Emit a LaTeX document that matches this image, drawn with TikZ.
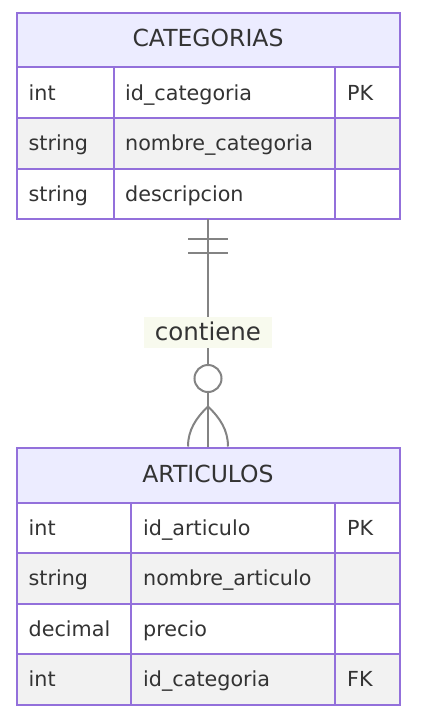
\documentclass[tikz,border=0pt]{standalone}
\usepackage{fontspec}
\setmainfont{DejaVu Sans}
\definecolor{purp}{HTML}{9370DB}
\definecolor{hdrfill}{HTML}{ECECFF}
\definecolor{altfill}{HTML}{F2F2F2}
\definecolor{txt}{HTML}{333333}
\definecolor{lnk}{HTML}{838383}
\definecolor{lblbg}{HTML}{F8FAEE}
\tikzset{
  attrtext/.style={anchor=base west, inner sep=0pt, text=txt, font=\fontsize{20.7}{24}\selectfont},
  hdrtext/.style={anchor=base, inner sep=0pt, text=txt, font=\fontsize{23.5}{27}\selectfont},
  frame/.style={draw=purp, line width=2pt},
  relline/.style={draw=lnk, line width=2pt},
}
\begin{document}
\begin{tikzpicture}[x=1pt,y=-1pt]
\useasboundingbox (0,0) rectangle (424,718);
% ---------- CATEGORIAS ----------
\path[fill=hdrfill] (16.5,13) rectangle (399.5,67);
\path[fill=white] (16.5,67) rectangle (399.5,117.5);
\path[fill=altfill] (16.5,117.5) rectangle (399.5,168.5);
\path[fill=white] (16.5,168.5) rectangle (399.5,218.5);
\node[hdrtext] (catT) at (208,46.7) {CATEGORIAS};
\node[attrtext] (c1a) at (28.5,100) {int};
\node[attrtext] (c1b) at (125,100) {id\_categoria};
\node[attrtext] (c1c) at (347,100) {PK};
\node[attrtext] (c2a) at (28.5,150.5) {string};
\node[attrtext] (c2b) at (125,150.5) {nombre\_categoria};
\node[attrtext] (c3a) at (28.5,201) {string};
\node[attrtext] (c3b) at (125,201) {descripcion};
\draw[frame] (16.5,13) rectangle (399.5,218.5);
\draw[frame] (16.5,67) -- (399.5,67) (16.5,117.5) -- (399.5,117.5) (16.5,168.5) -- (399.5,168.5)
  (113.5,67) -- (113.5,218.5) (335,67) -- (335,218.5);
\coordinate (catS) at (208,219);
% ---------- ARTICULOS ----------
\path[fill=hdrfill] (16.5,447.5) rectangle (399.5,502.5);
\path[fill=white] (16.5,502.5) rectangle (399.5,552.5);
\path[fill=altfill] (16.5,552.5) rectangle (399.5,603.5);
\path[fill=white] (16.5,603.5) rectangle (399.5,653.5);
\path[fill=altfill] (16.5,653.5) rectangle (399.5,704.5);
\node[hdrtext] (artT) at (208,482.3) {ARTICULOS};
\node[attrtext] (a1a) at (28.5,535) {int};
\node[attrtext] (a1b) at (143,535) {id\_articulo};
\node[attrtext] (a1c) at (347,535) {PK};
\node[attrtext] (a2a) at (28.5,585.5) {string};
\node[attrtext] (a2b) at (143,585.5) {nombre\_articulo};
\node[attrtext] (a3a) at (28.5,636) {decimal};
\node[attrtext] (a3b) at (143,636) {precio};
\node[attrtext] (a4a) at (28.5,686.5) {int};
\node[attrtext] (a4b) at (143,686.5) {id\_categoria};
\node[attrtext] (a4c) at (347,686.5) {FK};
\draw[frame] (16.5,447.5) rectangle (399.5,704.5);
\draw[frame] (16.5,502.5) -- (399.5,502.5) (16.5,552.5) -- (399.5,552.5) (16.5,603.5) -- (399.5,603.5)
  (16.5,653.5) -- (399.5,653.5)
  (131,502.5) -- (131,704.5) (335,502.5) -- (335,704.5);
\coordinate (artN) at (208,446.5);
% ---------- relationship ----------
\draw[relline] (catS) -- (artN);
\draw[relline] (188,239) -- (228,239) (188,252.5) -- (228,252.5);
\node[circle, draw=lnk, line width=2pt, fill=white, minimum size=27pt, inner sep=0pt] (zero) at (208,378.5) {};
\coordinate (apex) at (208,406.5);
\coordinate (footL) at (188,446.5);
\coordinate (footR) at (228,446.5);
\draw[relline] (apex) .. controls (196,418) and (188,430) .. (footL);
\draw[relline] (apex) .. controls (220,418) and (228,430) .. (footR);
\node[anchor=base, fill=lblbg, text=txt, inner sep=0pt, minimum width=128pt, text height=23.4pt, text depth=7.6pt, font=\fontsize{24.5}{28}\selectfont] (lbl) at (208,340.7) {contiene};
\end{tikzpicture}
\end{document}
